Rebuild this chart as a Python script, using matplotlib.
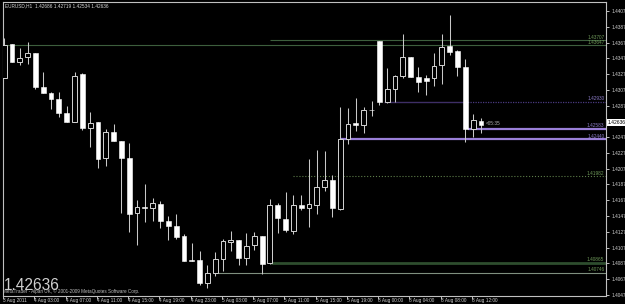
import numpy as np
import matplotlib
matplotlib.use('Agg')
import matplotlib.pyplot as plt

plt.rcParams['font.family'] = ['Liberation Sans', 'DejaVu Sans']

# EURUSD H1 candles, 3 Aug 23:00 .. 8 Aug 13:00 (2011)
opens = [1.43233, 1.43656, 1.43428, 1.43492, 1.43542, 1.43112, 1.43036, 1.42964, 1.42790, 1.42669,
         1.43276, 1.42600, 1.42664, 1.42213, 1.42542, 1.42423, 1.42213, 1.41517, 1.41593, 1.41580,
         1.41634, 1.41419, 1.41356, 1.41220, 1.40922, 1.40925, 1.40630, 1.40757, 1.40934, 1.41150,
         1.41179, 1.40947, 1.41106, 1.41220, 1.40884, 1.41622, 1.41444, 1.41293, 1.41622, 1.41580,
         1.41622, 1.41846, 1.41929, 1.41571, 1.42453, 1.42656, 1.42631, 1.42824, 1.43698, 1.42929,
         1.43086, 1.43259, 1.43492, 1.43246, 1.43223, 1.43226, 1.43394, 1.43635, 1.43571, 1.43373,
         1.42580, 1.42686]
highs = [1.43736, 1.43660, 1.43606, 1.43682, 1.43546, 1.43309, 1.43056, 1.43056, 1.42875, 1.43309,
         1.43297, 1.42803, 1.42666, 1.42584, 1.42647, 1.42426, 1.42407, 1.41685, 1.41888, 1.41707,
         1.41664, 1.41474, 1.41508, 1.41251, 1.41137, 1.41031, 1.40862, 1.41018, 1.41188, 1.41284,
         1.41180, 1.41263, 1.41271, 1.41222, 1.41694, 1.41643, 1.41782, 1.41748, 1.41739, 1.42200,
         1.42318, 1.42305, 1.42002, 1.42856, 1.42846, 1.42979, 1.42862, 1.42942, 1.43700, 1.43352,
         1.43261, 1.43787, 1.43495, 1.43373, 1.43268, 1.43546, 1.43783, 1.44027, 1.43584, 1.43466,
         1.42774, 1.42719]
lows = [1.43230, 1.43426, 1.43394, 1.43403, 1.43090, 1.43033, 1.42837, 1.42732, 1.42673, 1.42666,
        1.42571, 1.42347, 1.42086, 1.42107, 1.42426, 1.41520, 1.41271, 1.41115, 1.41398, 1.41410,
        1.41327, 1.41179, 1.41188, 1.40906, 1.40904, 1.40609, 1.40567, 1.40714, 1.40777, 1.41039,
        1.40862, 1.40862, 1.41043, 1.40748, 1.40875, 1.41263, 1.41280, 1.41251, 1.41558, 1.41334,
        1.41508, 1.41790, 1.41466, 1.41558, 1.42394, 1.42550, 1.42527, 1.42740, 1.42888, 1.42909,
        1.42926, 1.43226, 1.43242, 1.43046, 1.43014, 1.43128, 1.43154, 1.43521, 1.43249, 1.42413,
        1.42479, 1.42534]
closes = [1.43647, 1.43428, 1.43487, 1.43542, 1.43112, 1.43036, 1.42964, 1.42790, 1.42676, 1.43259,
          1.42600, 1.42656, 1.42200, 1.42542, 1.42428, 1.42213, 1.41508, 1.41593, 1.41584, 1.41643,
          1.41419, 1.41356, 1.41213, 1.40913, 1.40913, 1.40630, 1.40757, 1.40934, 1.41157, 1.41179,
          1.40947, 1.41103, 1.41220, 1.40875, 1.41622, 1.41453, 1.41296, 1.41613, 1.41580, 1.41631,
          1.41846, 1.41929, 1.41580, 1.42453, 1.42647, 1.42631, 1.42824, 1.42821, 1.42929, 1.43086,
          1.43259, 1.43492, 1.43246, 1.43179, 1.43192, 1.43381, 1.43626, 1.43562, 1.43365, 1.42580,
          1.42698, 1.42636]

time_tick_bars = [0, 4, 8, 12, 16, 20, 24, 28, 32, 36, 40, 44, 48, 52, 56, 60]
time_tick_labels = ['3 Aug 2011', '4 Aug 03:00', '4 Aug 07:00', '4 Aug 11:00', '4 Aug 15:00',
                    '4 Aug 19:00', '4 Aug 23:00', '5 Aug 03:00', '5 Aug 07:00', '5 Aug 11:00',
                    '5 Aug 15:00', '5 Aug 19:00', '8 Aug 00:00', '8 Aug 04:00', '8 Aug 08:00',
                    '8 Aug 12:00']
price_ticks = [1.40478, 1.40678, 1.40878, 1.41078, 1.41278, 1.41478, 1.41678, 1.41878, 1.42078,
               1.42278, 1.42478, 1.42678, 1.42878, 1.43078, 1.43278, 1.43478, 1.43678, 1.43878,
               1.44078]
last_price = 1.42636

# horizontal levels: (price, start bar, line colour, style, width, label, label colour)
levels = [
    (1.43707, 34.0, '#3d5e3d', '-', 0.8, '1.43707', '#6f9a5a'),
    (1.43647, -1.0, '#3d5e3d', '-', 0.8, '1.43647', '#6f9a5a'),
    (1.42584, 59.3, '#9a7fd8', '-', 1.6, '1.42583', '#8c7cc8'),
    (1.42453, 43.0, '#9a7fd8', '-', 1.6, '1.42440', '#8c7cc8'),
    (1.41982, 37.0, '#5e7e4a', ':', 0.8, '1.41982', '#6f9a5a'),
    (1.40884, 34.2, '#2e4d2e', '-', 2.0, '1.40865', '#6f9a5a'),
    (1.40761, 26.8, '#7f8f7f', '-', 0.8, '1.40746', '#6f9a5a'),
]
swing_level = 1.42930

W, H = 625, 304
fig = plt.figure(figsize=(W / 100, H / 100), dpi=100, facecolor='black')
ax = fig.add_axes([3 / W, 8.5 / H, 603 / W, 293.5 / H], facecolor='black')

x = np.arange(len(opens))
o = np.array(opens); c = np.array(closes)
ax.vlines(x, lows, highs, color='#c8c8c8', lw=0.75, zorder=3)
bull = c >= o
bottom = np.minimum(o, c)
height = np.maximum(np.abs(c - o), 0.00007)
ax.bar(x[bull], height[bull], 0.62, bottom=bottom[bull], color='black',
       edgecolor='#d4d4d4', linewidth=0.7, zorder=4)
ax.bar(x[~bull], height[~bull], 0.62, bottom=bottom[~bull], color='white',
       edgecolor='white', linewidth=0.4, zorder=4)

xmin, xmax = 0.2, 77.0
for price, start, col, ls, lw, lab, tcol in levels:
    ax.hlines(price, max(start, xmin - 1), xmax + 1, color=col, ls=ls, lw=lw, zorder=2)
    ax.text(76.8, price + 0.00005, lab, color=tcol, fontsize=3.4, ha='right', va='bottom', zorder=5)
ax.hlines(swing_level, 48.6, 58.9, color='#3e2e66', lw=1.0, zorder=2)
ax.hlines(swing_level, 58.9, xmax + 1, color='#4a3a80', ls=(0, (1, 1)), lw=0.9, zorder=2)
ax.text(76.8, swing_level + 0.00005, '1.42930', color='#8c7cc8', fontsize=3.4,
        ha='right', va='bottom', zorder=5)

ax.set_xlim(xmin, xmax)
ax.set_ylim(1.40470, 1.44192)

for s in ax.spines.values():
    s.set_color('#c0c0c0')
    s.set_linewidth(0.8)
ax.yaxis.tick_right()
ax.set_yticks(price_ticks)
# the tick label hidden behind the last-price box is left blank
ax.set_yticklabels(['' if abs(p - last_price) < 0.0005 else f'{p:.5f}' for p in price_ticks])
ax.set_xticks([b - 0.15 for b in time_tick_bars])
ax.set_xticklabels(time_tick_labels)
ax.tick_params(axis='both', colors='#c0c0c0', width=0.7, labelsize=3.4, labelcolor='#d0d0d0')
ax.tick_params(axis='y', length=2.5, pad=1.5)
ax.tick_params(axis='x', length=1.8, pad=0.2)
for t in ax.get_xticklabels():
    t.set_ha('left')

# overlay texts
fig.text(5 / W, 1 - 5.5 / H, 'EURUSD,H1  1.42686 1.42719 1.42534 1.42636', color='#d8d8d8',
         fontsize=3.4, va='center', ha='left')
fig.text(4 / W, 1 - 286 / H, f'{last_price:.5f}', color='#d0d0d0', fontsize=11.2, va='center', ha='left')
fig.text(3 / W, 1 - 291 / H, 'MetaTrader - Alpari UK, \u00a9 2001-2009 MetaQuotes Software Corp.',
         color='#c0c0c0', fontsize=3.3, va='center', ha='left')
fig.text(486 / W, 1 - 123.5 / H, '<05:35', color='#b0b0b0', fontsize=3.4, va='center', ha='left')
fig.text(608 / W, 1 - 122.5 / H, f'{last_price:.5f}', color='black', fontsize=3.6, va='center', ha='left',
         bbox=dict(boxstyle='square,pad=0.15', fc='white', ec='none'))

fig.savefig('out.png', dpi=100, facecolor='black')
